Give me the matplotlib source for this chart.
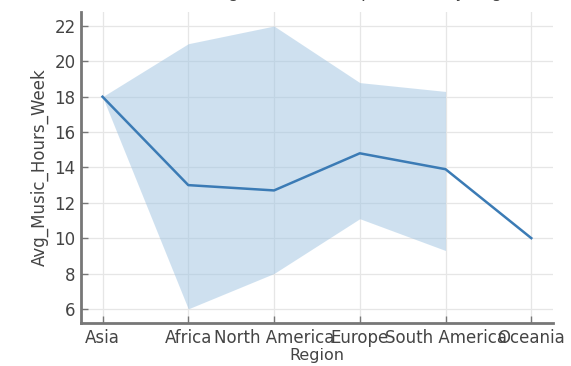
import numpy as np
import matplotlib
matplotlib.use("Agg")
import matplotlib.pyplot as plt

regions = ["Asia", "Africa", "North America", "Europe", "South America", "Oceania"]
mean_hours = [18.0, 13.0, 12.7, 14.8, 13.9, 10.0]
ci_low = [18.0, 6.0, 8.0, 11.1, 9.3, np.nan]
ci_high = [18.0, 21.0, 22.0, 18.8, 18.3, np.nan]
title = "Average Music Hours per Week by Region"

fig = plt.figure(figsize=(5.71, 3.66), dpi=100)
ax = fig.add_axes([0.142, 0.1175, 0.826, 0.85])

x = np.arange(len(regions))
ax.fill_between(x, ci_low, ci_high, color="#9ec3e1", alpha=0.5, linewidth=0)
ax.plot(x, mean_hours, color="#3b7bb5", linewidth=1.8)

ax.set_xticks(x)
ax.set_xticklabels(regions)
ax.set_yticks(np.arange(6, 23, 2))
ax.set_xlabel("Region", fontsize=11.5, color="#444444", labelpad=1)
ax.set_ylabel("Avg_Music_Hours_Week", fontsize=12, color="#444444", labelpad=4)

ax.grid(True, color="#e6e6e6", linewidth=0.9)
ax.set_axisbelow(True)
for side in ("top", "right"):
    ax.spines[side].set_visible(False)
for side in ("left", "bottom"):
    ax.spines[side].set_color("#777777")
    ax.spines[side].set_linewidth(2.0)
ax.tick_params(direction="in", colors="#777777", labelcolor="#444444",
               labelsize=12, length=5, width=1, pad=4)

# title sits at the very top edge of the canvas
fig.text(0.62, 1 + 3 / 366, title, ha="center", va="baseline",
         fontsize=12, color="#444444")

fig.savefig("out.png", dpi=100)
